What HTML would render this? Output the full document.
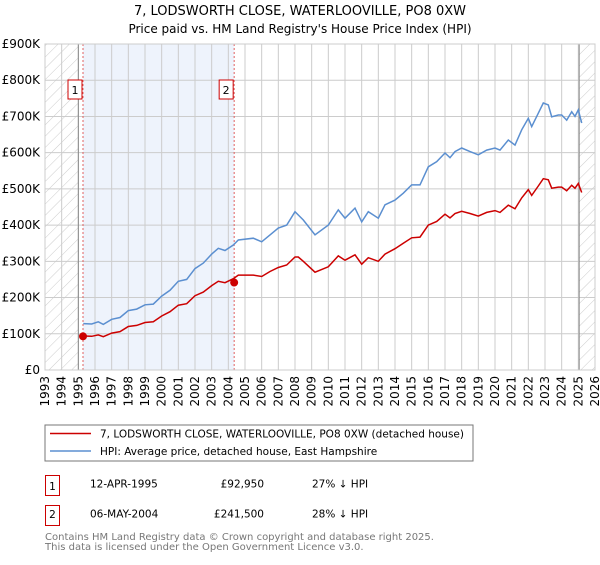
<!DOCTYPE html>
<html><head><meta charset="utf-8"><style>
body{margin:0;background:#fff;font-family:"Liberation Sans","DejaVu Sans",sans-serif;}
svg text{font-family:"DejaVu Sans","Liberation Sans",sans-serif;}
</style></head><body>
<svg id="c" width="600" height="560" viewBox="0 0 600 560" xmlns="http://www.w3.org/2000/svg">
<defs>
<pattern id="hatch" patternUnits="userSpaceOnUse" width="8" height="8" patternTransform="rotate(45)">
<line x1="0" y1="0" x2="0" y2="8" stroke="#ccc" stroke-width="1"/></pattern>
</defs>
<text x="300" y="15" text-anchor="middle" font-size="13">7, LODSWORTH CLOSE, WATERLOOVILLE, PO8 0XW</text>
<text x="300" y="33" text-anchor="middle" font-size="12">Price paid vs. HM Land Registry's House Price Index (HPI)</text>
<g id="plot"></g>
<g>
<rect x="45" y="425" width="428" height="36" fill="#fff" stroke="#777"/>
<line x1="50" y1="433.5" x2="91" y2="433.5" stroke="#cc0000" stroke-width="1.5"/>
<text x="100" y="437.5" font-size="10.5">7, LODSWORTH CLOSE, WATERLOOVILLE, PO8 0XW (detached house)</text>
<line x1="50" y1="451" x2="91" y2="451" stroke="#5b8fd0" stroke-width="1.5"/>
<text x="100" y="455" font-size="10.5">HPI: Average price, detached house, East Hampshire</text>
</g>
<g font-size="10.5">
<rect x="45.5" y="475.5" width="14" height="20" fill="#fff" stroke="#cc0000"/><text x="52.5" y="490" text-anchor="middle">1</text>
<text x="90" y="487.5">12-APR-1995</text><text x="264" y="487.5" text-anchor="end">£92,950</text><text x="312" y="487.5">27% ↓ HPI</text>
<rect x="45.5" y="505.5" width="14" height="20" fill="#fff" stroke="#cc0000"/><text x="52.5" y="518" text-anchor="middle">2</text>
<text x="90" y="517.5">06-MAY-2004</text><text x="264" y="517.5" text-anchor="end">£241,500</text><text x="312" y="517.5">28% ↓ HPI</text>
</g>
<text x="45" y="540" font-size="10" fill="#777">Contains HM Land Registry data © Crown copyright and database right 2025.</text>
<text x="45" y="550" font-size="10" fill="#777">This data is licensed under the Open Government Licence v3.0.</text>
</svg>
<script>
const yTicks=[0,100,200,300,400,500,600,700,800,900];
const yTickLabels=["£0","£100K","£200K","£300K","£400K","£500K","£600K","£700K","£800K","£900K"];
const years=[1993,1994,1995,1996,1997,1998,1999,2000,2001,2002,2003,2004,2005,2006,2007,2008,2009,2010,2011,2012,2013,2014,2015,2016,2017,2018,2019,2020,2021,2022,2023,2024,2025,2026];
const dates=[1995.3,1995.8,1996.2,1996.5,1997,1997.5,1998,1998.5,1999,1999.5,2000,2000.5,2001,2001.5,2002,2002.5,2003,2003.4,2003.8,2004.3,2004.6,2005.5,2006,2006.5,2007,2007.5,2008,2008.2,2008.5,2009.2,2010,2010.6,2011,2011.6,2012,2012.4,2013,2013.4,2014,2014.5,2015,2015.5,2016,2016.5,2017,2017.3,2017.6,2018,2018.5,2019,2019.5,2020,2020.3,2020.8,2021.2,2021.6,2022,2022.2,2022.6,2022.9,2023.2,2023.4,2023.8,2024,2024.3,2024.6,2024.8,2025,2025.2];
const hpi=[128,127,133,126,140,145,164,168,180,182,204,220,245,250,280,295,320,336,330,345,359,364,354,373,392,400,437,428,414,373,400,442,419,447,409,437,419,456,469,488,511,511,561,575,599,586,603,613,603,594,607,613,607,635,621,663,695,672,709,737,732,699,704,704,690,713,700,718,682];
const price=[94,93,97,92,102,106,120,123,131,133,149,161,179,183,205,215,233,245,241,252,262,262,258,272,283,290,312,312,300,270,285,315,303,318,292,310,300,320,335,350,365,367,400,410,430,420,432,438,432,425,435,440,435,455,445,475,498,482,508,528,525,502,505,505,495,510,502,515,490];
const saleDates=[1995.28,2004.35];
const salePrices=[92.95,241.5];
const saleLabels=["1","2"];
const X0=45,X1=595,Y0=370,Y1=44;
const x=yr=>X0+(yr-1993)*(X1-X0)/33;
const y=v=>Y0-v*(Y0-Y1)/900;
const NS="http://www.w3.org/2000/svg";
const g=document.getElementById('plot');
function mk(t,a){const e=document.createElementNS(NS,t);for(const k in a)e.setAttribute(k,a[k]);g.appendChild(e);return e;}
let e;
e=mk('rect',{x:x(saleDates[0]),y:Y1,width:x(saleDates[1])-x(saleDates[0]),height:Y0-Y1,fill:'#eef3fc'});


e=mk('rect',{x:X0,y:Y1,width:x(1995)-X0,height:Y0-Y1,fill:'url(#hatch)'});


e=mk('rect',{x:x(2025.05),y:Y1,width:X1-x(2025.05),height:Y0-Y1,fill:'url(#hatch)'});


years.forEach(yr=>{e=mk('line',{x1:x(yr),x2:x(yr),y1:Y1,y2:Y0,stroke:'#ccc'});


const t=mk('text',{x:0,y:0,'font-size':12,'text-anchor':'end',transform:`translate(${x(yr)+4},${Y0+6}) rotate(-90)`});t.textContent=yr;

});
yTicks.forEach((v,i)=>{e=mk('line',{x1:X0,x2:X1,y1:y(v),y2:y(v),stroke:'#ccc'});


const t=mk('text',{x:X0-5,y:y(v)+4,'font-size':12,'text-anchor':'end'});t.textContent=yTickLabels[i];

});
e=mk('line',{x1:x(1995),x2:x(1995),y1:Y1,y2:Y0,stroke:'#888'});


e=mk('line',{x1:x(2025.05),x2:x(2025.05),y1:Y1,y2:Y0,stroke:'#888'});


saleDates.forEach((d,i)=>{e=mk('line',{x1:x(d),x2:x(d),y1:Y1,y2:Y0,stroke:'#e06060','stroke-dasharray':'2,2'});


const r=mk('rect',{x:x(d)-15,y:80,width:14,height:19,fill:'#fff',stroke:'#cc0000'});


const t=mk('text',{x:x(d)-8,y:94,'font-size':11,'text-anchor':'middle'});t.textContent=saleLabels[i];

});
const pts=a=>dates.map((d,i)=>x(d).toFixed(1)+','+y(a[i]).toFixed(1)).join(' ');
e=mk('polyline',{points:pts(hpi),fill:'none',stroke:'#5b8fd0','stroke-width':1.5});


e=mk('polyline',{points:pts(price),fill:'none',stroke:'#cc0000','stroke-width':1.5});


saleDates.forEach((d,i)=>{e=mk('circle',{cx:x(d),cy:y(salePrices[i]),r:4,fill:'#cc0000'});

});
e=mk('rect',{x:X0,y:Y1,width:X1-X0,height:Y0-Y1,fill:'none',stroke:'#ccc'});


</script>
</body></html>
